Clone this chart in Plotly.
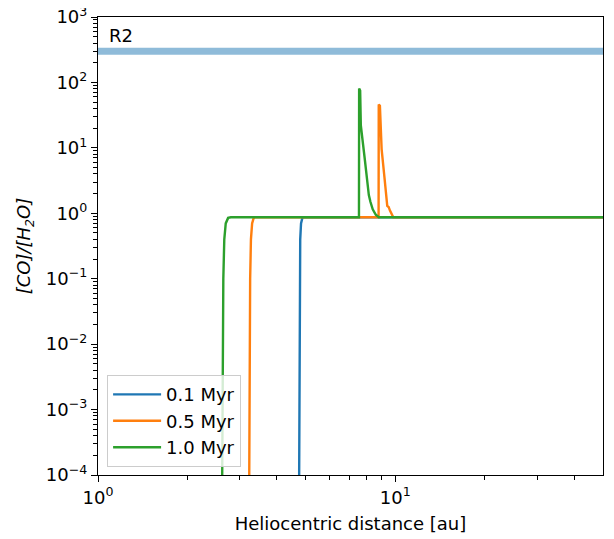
import numpy as np
import plotly.graph_objects as go

# ---- data ----
labels = ["0.1 Myr", "0.5 Myr", "1.0 Myr"]
colors = ["#1f77b4", "#ff7f0e", "#2ca02c"]

x_01 = [4.74, 4.75, 4.76, 4.77, 4.79, 4.82, 4.87, 4.93, 50.0]
y_01 = [1e-5, 1e-3, 1e-2, 0.1, 0.4, 0.7, 0.85, 0.87, 0.87]

x_05 = [3.22, 3.23, 3.24, 3.25, 3.27, 3.30, 3.34, 3.38, 8.79, 8.80, 8.88, 8.95, 9.0, 9.2, 9.40, 9.5, 9.6, 9.85, 50.0]
y_05 = [1e-5, 1e-3, 1e-2, 0.1, 0.4, 0.7, 0.85, 0.87, 0.87, 46, 44, 10.4, 9.5, 3.5, 1.3, 1.25, 1.1, 0.87, 0.87]

x_10 = [2.61, 2.62, 2.63, 2.64, 2.66, 2.69, 2.74, 2.80, 7.55, 7.56, 7.62, 7.66, 7.89, 8.11, 8.15, 8.25, 8.4, 8.6, 8.8, 50.0]
y_10 = [1e-5, 1e-3, 1e-2, 0.1, 0.4, 0.7, 0.85, 0.87, 0.87, 81, 75, 22, 7, 2.1, 1.9, 1.5, 1.15, 0.95, 0.87, 0.87]

r2_x = [1.0, 50.0]
r2_y = [300.0, 300.0]
r2_label = "R2"

x_range = [1.0, 50.0]
y_range = [1e-4, 1e3]

FONT = "DejaVu Sans"
FS = 18

fig = go.Figure()

fig.add_trace(go.Scatter(x=r2_x, y=r2_y, mode="lines",
                         line=dict(color="rgba(31,119,180,0.5)", width=7),
                         showlegend=False, hoverinfo="skip"))

for xs, ys, lab, col in zip([x_01, x_05, x_10], [y_01, y_05, y_10], labels, colors):
    fig.add_trace(go.Scatter(x=xs, y=ys, mode="lines", name=lab,
                             line=dict(color=col, width=2.4)))

fig.add_annotation(x=np.log10(1.07), y=np.log10(r2_y[0]), xref="x", yref="y",
                   text=r2_label, showarrow=False, xanchor="left", yanchor="bottom",
                   yshift=3, font=dict(family=FONT, size=FS, color="black"))

x_minor = [2, 3, 4, 5, 6, 7, 8, 9, 20, 30, 40]
y_minor = [m * 10.0 ** e for e in range(-4, 3) for m in range(2, 10)]
y_major = [10.0 ** e for e in range(-4, 4)]
y_text = ["10<sup>%s</sup>" % (str(e).replace("-", "\u2212")) for e in range(-4, 4)]

fig.update_xaxes(type="log", range=[np.log10(x_range[0]), np.log10(x_range[1])],
                 tickvals=[1, 10], ticktext=["10<sup>0</sup>", "10<sup>1</sup>"],
                 ticks="outside", ticklen=6, tickwidth=1.2, tickcolor="black",
                 minor=dict(tickvals=x_minor, ticks="outside", ticklen=3.5, tickwidth=1, tickcolor="black"),
                 showline=True, linecolor="black", linewidth=1.2, mirror=True,
                 showgrid=False, zeroline=False, automargin=False, ticklabeloverflow="allow",
                 tickfont=dict(family=FONT, size=FS, color="black"),
                 title=dict(text="Heliocentric distance [au]", font=dict(family=FONT, size=FS, color="black"), standoff=10))

fig.update_yaxes(type="log", range=[np.log10(y_range[0]), np.log10(y_range[1])],
                 tickvals=y_major, ticktext=y_text,
                 ticks="outside", ticklen=6, tickwidth=1.2, tickcolor="black",
                 minor=dict(tickvals=y_minor, ticks="outside", ticklen=3.5, tickwidth=1, tickcolor="black"),
                 showline=True, linecolor="black", linewidth=1.2, mirror=True,
                 showgrid=False, zeroline=False, automargin=False, ticklabeloverflow="allow",
                 tickfont=dict(family=FONT, size=FS, color="black"),
                 title=dict(text="<i>[CO]/[H</i><sub><i>2</i></sub><i>O]</i>", font=dict(family=FONT, size=FS, color="black"), standoff=10))

# page body adds an 8px offset; margins compensate so the plot area lands at x 98-603, y 17-475
fig.update_layout(width=614, height=539,
                  margin=dict(l=90, r=19, t=9, b=72),
                  paper_bgcolor="white", plot_bgcolor="white",
                  font=dict(family=FONT, size=FS, color="black"),
                  legend=dict(x=0.018, y=0.017, xanchor="left", yanchor="bottom",
                              bgcolor="rgba(255,255,255,0.8)", bordercolor="#cccccc", borderwidth=1,
                              font=dict(family=FONT, size=FS, color="black"),
                              itemwidth=48, tracegroupgap=0),
                  showlegend=True)

fig.write_html("out.html")
